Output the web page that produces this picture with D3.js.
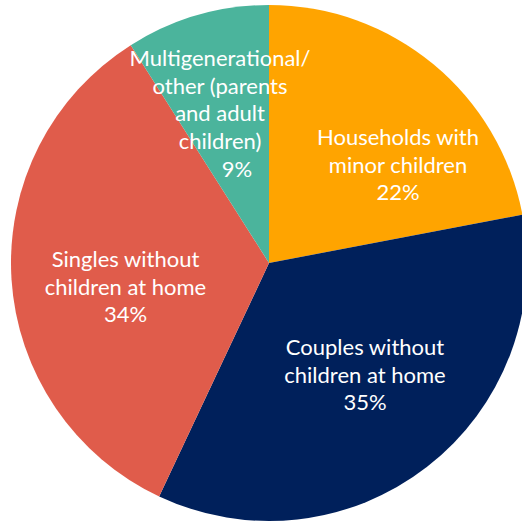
<!DOCTYPE html>
<html>
<head>
<meta charset="utf-8">
<script src="https://cdn.jsdelivr.net/npm/d3@7"></script>
<style>
  html, body { margin: 0; padding: 0; background: #fff; }
  svg { display: block; }
</style>
</head>
<body>
<svg id="chart" width="522" height="523"></svg>
<script>
// Household composition shares (percent), clockwise from 12 o'clock
const categories = [
  "Households with minor children",
  "Couples without children at home",
  "Singles without children at home",
  "Multigenerational/ other (parents and adult children)"
];
const values = [22, 35, 34, 9];
const colors = ["#FFA400", "#00205B", "#E05C4B", "#4BB49C"];
// Wrapped label lines for each slice (the percent line is appended below)
const labelLines = [
  ["Households with", "minor children"],
  ["Couples without", "children at home"],
  ["Singles without", "children at home"],
  ["Multigenerational/", "other (parents", "and adult", "children)"]
];

const width = 522, height = 523;
const cx = 269, cy = 263, radius = 258;

// Label block centres, relative to the pie centre
const labelOffsets = [[129, -98], [96, 112], [-143.5, 24], [-49, -149.5]];
// Extra horizontal shift for the percent line of each label
const pctShift = [0, 0, 0, 17];

const svg = d3.select("#chart");
const g = svg.append("g").attr("transform", `translate(${cx},${cy})`);

const pie = d3.pie().value(d => d).sort(null);
const arcs = pie(values);
const arc = d3.arc().innerRadius(0).outerRadius(radius);

g.selectAll("path.slice")
  .data(arcs)
  .join("path")
  .attr("class", "slice")
  .attr("d", arc)
  .attr("fill", (d, i) => colors[i]);

const lineH = 27.7;
const fontSize = 22;

arcs.forEach((d, i) => {
  const [lx, ly] = labelOffsets[i];
  const lines = labelLines[i].concat([values[i] + "%"]);
  const top = ly - (lines.length - 1) * lineH / 2;
  const t = g.append("text")
    .attr("text-anchor", "middle")
    .attr("fill", "#ffffff")
    .style("font-family", "Lato, 'Open Sans', sans-serif")
    .style("font-size", fontSize + "px");
  lines.forEach((s, j) => {
    t.append("tspan")
      .attr("x", lx + (j === lines.length - 1 ? pctShift[i] : 0))
      .attr("y", top + j * lineH)
      .attr("dy", "0.35em")
      .text(s);
  });
});
</script>
</body>
</html>
